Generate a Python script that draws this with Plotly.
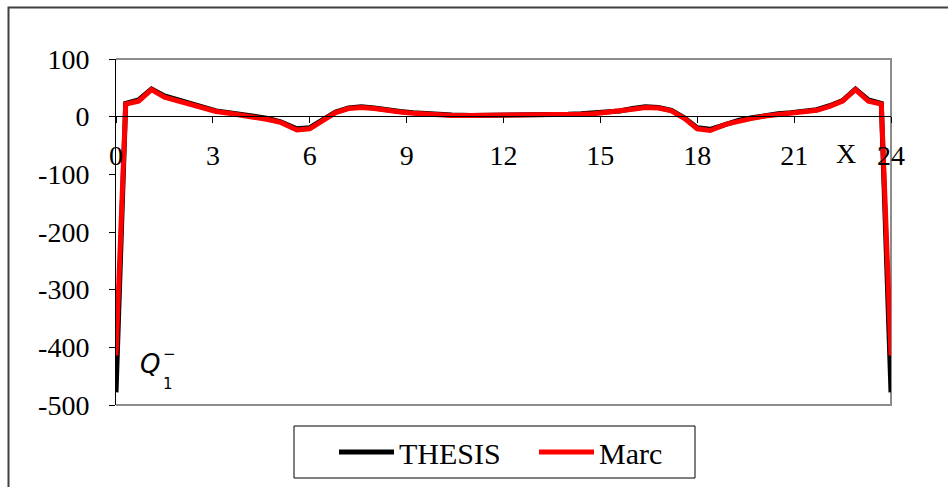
import plotly.graph_objects as go

# ---- data ----
x_vals = [0, 0.3, 0.7, 1.1, 1.5, 1.9, 2.3, 2.7, 3.1, 3.5, 3.9, 4.3, 4.7, 5.1, 5.6, 6.0,
          6.4, 6.8, 7.2, 7.6, 8.0, 8.4, 8.8, 9.2, 9.6, 10.0, 10.4, 11.0, 12.0, 13.0, 13.6,
          14.0, 14.4, 14.8, 15.2, 15.6, 16.0, 16.4, 16.8, 17.2, 17.6, 18.0, 18.4, 18.9,
          19.3, 19.7, 20.1, 20.5, 20.9, 21.3, 21.7, 22.1, 22.5, 22.9, 23.3, 23.7, 24.0]
thesis = [-478, 23, 29, 48, 36, 30, 22, 16, 10, 7, 4, 1, -3, -9, -21, -19,
          -6, 8, 15, 17, 15, 11, 9, 7, 5, 4, 3, 2, 2, 2, 3,
          4, 5, 6, 8, 10, 14, 17, 16, 11, -2, -19, -22, -12,
          -6, -2, 2, 5, 7, 9, 12, 19, 28, 48, 29, 23, -478]
marc = [-414, 22, 27, 47, 34, 28, 20, 14, 9, 6, 3, 0, -5, -10, -23, -21,
        -7, 7, 14, 16, 14, 10, 8, 6, 4, 3, 2, 2, 2, 2, 2,
        3, 4, 5, 7, 9, 13, 16, 15, 10, -3, -21, -24, -13,
        -7, -3, 1, 4, 6, 8, 11, 18, 27, 47, 27, 22, -414]
x_ticks = [0, 3, 6, 9, 12, 15, 18, 21, 24]
y_ticks = [100, 0, -100, -200, -300, -400, -500]
y_ticktext = ["100", "0", "-100", "-200", "-300", "-400", "-500"]

FONT = "Liberation Serif"
W, H = 948, 487
L, R, T, B = 116, 57, 59, 82
pw, ph = W - L - R, H - T - B

def px(xp):
    return (xp - L) / pw

def py(yp):
    return (H - B - yp) / ph

fig = go.Figure()
fig.add_trace(go.Scatter(x=x_vals, y=thesis, mode="lines", name="THESIS",
                         line=dict(color="black", width=5)))
fig.add_trace(go.Scatter(x=x_vals, y=marc, mode="lines", name="Marc",
                         line=dict(color="#ff0000", width=5)))

fig.update_layout(
    width=W, height=H,
    margin=dict(l=L, r=R, t=T, b=B, autoexpand=False),
    paper_bgcolor="white", plot_bgcolor="white",
    font=dict(family=FONT, size=28, color="black"),
    showlegend=True,
    legend=dict(orientation="h", x=px(334), xanchor="left", y=py(452), yanchor="middle",
                borderwidth=0, bgcolor="rgba(0,0,0,0)", font=dict(family=FONT, size=30),
                entrywidth=130, entrywidthmode="pixels", itemwidth=55),
    xaxis=dict(range=[0, 24], tickvals=x_ticks, ticks="outside", ticklen=6,
               tickcolor="black", showline=True, linecolor="black", linewidth=1,
               showgrid=False, zeroline=False, anchor="free", position=py(116),
               tickfont=dict(family=FONT, size=28), ticklabelstandoff=8, fixedrange=True),
    yaxis=dict(range=[-500, 100], tickvals=y_ticks, ticktext=y_ticktext,
               ticks="outside", ticklen=6, tickcolor="black", showline=True,
               linecolor="black", linewidth=1, showgrid=False, zeroline=False,
               tickfont=dict(family=FONT, size=28), ticklabelstandoff=14),
)

# plot frame (gray top/right/bottom)
fig.add_shape(type="path", xref="paper", yref="paper", layer="below",
              path="M 0 1 L 1 1 L 1 0 L 0 0", line=dict(color="#8c8c8c", width=2))
# outer chart border (left and top visible)
fig.add_shape(type="path", xref="paper", yref="paper",
              path=f"M {px(8.5)} {py(490)} L {px(8.5)} {py(7.5)} L {px(950)} {py(7.5)}",
              line=dict(color="#404040", width=2))
# legend box
fig.add_shape(type="rect", xref="paper", yref="paper",
              x0=px(294), x1=px(695), y0=py(478), y1=py(426),
              line=dict(color="black", width=1))

fig.add_annotation(x=22.6, y=-63, xref="x", yref="y", text="X", showarrow=False,
                   font=dict(family=FONT, size=28))
fig.add_annotation(x=px(139), y=py(380), xref="paper", yref="paper", text="<i>Q</i>",
                   showarrow=False, font=dict(family="DejaVu Sans", size=26), borderpad=0)
fig.add_annotation(x=px(162), y=py(394), xref="paper", yref="paper", text="1",
                   showarrow=False, font=dict(family="DejaVu Sans", size=15), borderpad=0)
fig.add_annotation(x=px(162), y=py(364), xref="paper", yref="paper", text="−",
                   showarrow=False, font=dict(family="DejaVu Sans", size=15), borderpad=0)

fig.write_html("out.html")
